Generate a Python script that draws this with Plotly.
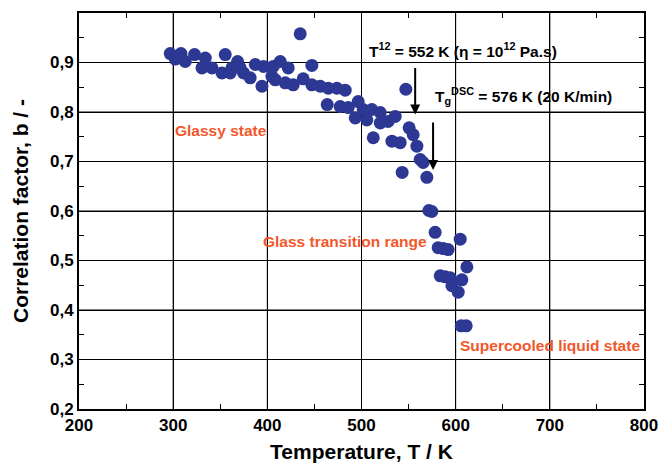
import plotly.graph_objects as go

# Data
temperature_K = [
    296.9, 308.3, 302.2, 312.8, 322.7, 334.1, 330.6, 341.2, 355.3, 351.8,
    360.6, 368.4, 374.7, 381.8, 387.2, 396.0, 394.3, 404.9, 362.4, 371.2,
    434.9, 413.7, 406.3, 422.2, 447.3, 408.4, 419.0, 427.5, 438.1, 447.3,
    456.2, 464.7, 473.9, 482.7, 463.6, 477.4, 485.9, 496.5, 493.3, 505.7,
    501.8, 511.0, 519.9, 519.9, 528.3, 535.8, 512.5, 532.3, 541.1, 547.1,
    550.6, 554.9, 558.8, 562.3, 565.5, 543.2, 569.4, 574.7, 571.5, 578.2,
    604.8, 581.4, 586.8, 592.0, 611.9, 583.6, 588.8, 594.2, 606.6, 596.0,
    602.7, 605.9, 611.2,
]
correlation_b = [
    0.918, 0.918, 0.907, 0.902, 0.916, 0.909, 0.889, 0.889, 0.916, 0.879,
    0.879, 0.902, 0.879, 0.869, 0.896, 0.892, 0.852, 0.872, 0.889, 0.889,
    0.958, 0.902, 0.892, 0.889, 0.894, 0.865, 0.859, 0.855, 0.867, 0.855,
    0.852, 0.848, 0.848, 0.844, 0.815, 0.811, 0.809, 0.821, 0.788, 0.784,
    0.805, 0.805, 0.799, 0.778, 0.781, 0.791, 0.748, 0.741, 0.738, 0.846,
    0.768, 0.754, 0.731, 0.704, 0.698, 0.678, 0.668, 0.599, 0.601, 0.557,
    0.543, 0.526, 0.524, 0.522, 0.487, 0.469, 0.467, 0.465, 0.461, 0.449,
    0.436, 0.368, 0.368,
]

x_ticks = [200, 300, 400, 500, 600, 700, 800]
x_tick_labels = ["200", "300", "400", "500", "600", "700", "800"]
y_ticks = [0.2, 0.3, 0.4, 0.5, 0.6, 0.7, 0.8, 0.9, 1.0]
y_tick_labels = ["0,2", "0,3", "0,4", "0,5", "0,6", "0,7", "0,8", "0,9", "1"]

region_labels = ["Glassy state", "Glass transition range", "Supercooled liquid state"]
region_x = [300, 393.5, 602.3]
region_y = [0.762, 0.538, 0.328]

T12_label = "T<sup>12</sup> = 552 K (η = 10<sup>12</sup> Pa.s)"
T12_pos = (505.7, 0.926)
Tg_label = "T<sub>g</sub><sup>DSC</sup> = 576 K (20 K/min)"
Tg_pos = (576.4, 0.833)

# arrows: (x, y_tail, y_head)
arrow_T12 = (557, 0.892, 0.795)
arrow_Tg = (576, 0.782, 0.683)

FONT = "Liberation Sans, Arial, Helvetica, sans-serif"
BLUE = "#2C3893"
ORANGE = "#F2572B"

fig = go.Figure()
fig.add_trace(go.Scatter(
    x=temperature_K, y=correlation_b, mode="markers",
    marker=dict(color=BLUE, size=13, line=dict(width=0)),
    showlegend=False, hoverinfo="x+y",
))

# grid lines at the major tick values
for xv in x_ticks[1:-1]:
    fig.add_shape(type="line", xref="x", yref="y", x0=xv, x1=xv,
                  y0=y_ticks[0], y1=y_ticks[-1], layer="below",
                  line=dict(color="black", width=1))
for yv in y_ticks[1:-1]:
    fig.add_shape(type="line", xref="x", yref="y", y0=yv, y1=yv,
                  x0=x_ticks[0], x1=x_ticks[-1], layer="below",
                  line=dict(color="black", width=1))

for txt, xx, yy in zip(region_labels, region_x, region_y):
    fig.add_annotation(x=xx, y=yy, text=f"<b>{txt}</b>", showarrow=False,
                       xanchor="left", yanchor="middle",
                       font=dict(family=FONT, size=15.5, color=ORANGE))

fig.add_annotation(x=T12_pos[0], y=T12_pos[1], text=f"<b>{T12_label}</b>", showarrow=False,
                   xanchor="left", yanchor="middle",
                   font=dict(family=FONT, size=15.5, color="black"))
fig.add_annotation(x=Tg_pos[0], y=Tg_pos[1], text=f"<b>{Tg_label}</b>", showarrow=False,
                   xanchor="left", yanchor="middle",
                   font=dict(family=FONT, size=15.5, color="black"))

for ax_x, y_tail, y_head in (arrow_T12, arrow_Tg):
    fig.add_annotation(x=ax_x, y=y_head, ax=ax_x, ay=y_tail, xref="x", yref="y",
                       axref="x", ayref="y", text="", showarrow=True,
                       arrowhead=2, arrowsize=1, arrowwidth=2, arrowcolor="black")

axis_common = dict(
    showline=True, linecolor="black", linewidth=2, mirror="allticks",
    showgrid=True, gridcolor="black", gridwidth=1,
    ticks="inside", ticklen=6, tickcolor="black", tickwidth=1,
    zeroline=False,
    tickfont=dict(family=FONT, size=17, color="black", weight="bold"),
)

fig.update_xaxes(
    range=[200, 800], tickvals=x_ticks, ticktext=x_tick_labels,
    minor=dict(ticks="inside", dtick=50, tick0=200, ticklen=5, tickcolor="black"),
    title=dict(text="Temperature, T / K", standoff=10,
               font=dict(family=FONT, size=21, color="black", weight="bold")),
    **axis_common,
)
fig.update_yaxes(
    range=[0.2, 1.0], tickvals=y_ticks, ticktext=y_tick_labels,
    minor=dict(ticks="inside", dtick=0.05, tick0=0.2, ticklen=5, tickcolor="black"),
    title=dict(text="Correlation factor, b / -", standoff=16,
               font=dict(family=FONT, size=21, color="black", weight="bold")),
    **axis_common,
)

fig.update_layout(
    width=672, height=466,
    margin=dict(l=71, r=36, t=5, b=65, autoexpand=False),
    plot_bgcolor="white", paper_bgcolor="white",
    font=dict(family=FONT, color="black"),
)

fig.write_html("out.html")
